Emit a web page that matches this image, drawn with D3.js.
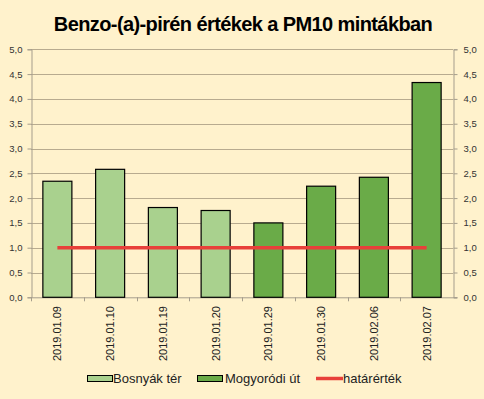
<!DOCTYPE html>
<html>
<head>
<meta charset="utf-8">
<script src="https://cdn.jsdelivr.net/npm/d3@7"></script>
<style>
  body { margin: 0; background: #fff2cc; }
  text { font-family: "Liberation Sans", Arial, sans-serif; }
</style>
</head>
<body>
<svg id="chart" width="484" height="399"></svg>
<script>
// adatok
const dates = ["2019.01.09", "2019.01.10", "2019.01.19", "2019.01.20",
               "2019.01.29", "2019.01.30", "2019.02.06", "2019.02.07"];
const bosnyak = [2.34, 2.58, 1.81, 1.75, null, null, null, null];
const mogyorodi = [null, null, null, null, 1.50, 2.24, 2.42, 4.33];
const hatarertek = [1, 1, 1, 1, 1, 1, 1, 1];
const yTicks = [0, 0.5, 1, 1.5, 2, 2.5, 3, 3.5, 4, 4.5, 5];

const svg = d3.select("#chart");
const W = 484, H = 399;
const pLeft = 31, pRight = 453, pTop = 49.3, pBottom = 297.3;

svg.append("rect").attr("width", W).attr("height", H).attr("fill", "#fff2cc");

const x = d3.scaleBand().domain(dates).range([pLeft, pRight]).paddingInner(0.45).paddingOuter(0.225);
const xc = d3.scaleBand().domain(dates).range([pLeft, pRight]);
const y = d3.scaleLinear().domain([0, 5]).range([pBottom, pTop]);

const fmt = d => d3.format(".1f")(d).replace(".", ",");

// rácsvonalak
svg.append("g").selectAll("line").data(yTicks.slice(1)).enter().append("line")
  .attr("x1", pLeft).attr("x2", pRight)
  .attr("y1", d => Math.round(y(d)) + 0.5).attr("y2", d => Math.round(y(d)) + 0.5)
  .attr("stroke", "#b8ab8f").attr("stroke-width", 1);

// tengelyek
const axL = svg.append("g").attr("transform", `translate(${pLeft + 0.5},0)`)
  .call(d3.axisLeft(y).tickValues(yTicks).tickFormat(fmt).tickSize(4).tickPadding(5));
const axR = svg.append("g").attr("transform", `translate(${pRight + 0.5},0)`)
  .call(d3.axisRight(y).tickValues(yTicks).tickFormat(fmt).tickSize(4).tickPadding(6));
[axL, axR].forEach(a => {
  a.select(".domain").attr("stroke", "#a59d8c");
  a.selectAll(".tick line").attr("stroke", "#a59d8c");
  a.selectAll("text").attr("font-size", 9.5).attr("fill", "#333")
    .style("font-family", "'Liberation Sans', Arial, sans-serif");
});

// x tengely
svg.append("line").attr("x1", pLeft).attr("x2", pRight + 4)
  .attr("y1", pBottom + 0.5).attr("y2", pBottom + 0.5).attr("stroke", "#a59d8c");
svg.append("g").selectAll("line").data(dates).enter().append("line")
  .attr("x1", d => Math.round(xc(d)) + 0.5).attr("x2", d => Math.round(xc(d)) + 0.5)
  .attr("y1", pBottom).attr("y2", pBottom + 4).attr("stroke", "#a59d8c");

svg.append("g").selectAll("text").data(dates).enter().append("text")
  .attr("transform", d => `translate(${xc(d) + xc.bandwidth() / 2 + 4},306) rotate(-90)`)
  .attr("text-anchor", "end")
  .attr("font-size", 11).attr("fill", "#222")
  .text(d => d);

// oszlopok
function bars(vals, color) {
  svg.append("g").selectAll("rect").data(dates.map((d, i) => ({ d, v: vals[i] })).filter(o => o.v != null))
    .enter().append("rect")
    .attr("x", o => x(o.d)).attr("width", x.bandwidth())
    .attr("y", o => y(o.v)).attr("height", o => y(0) - y(o.v))
    .attr("fill", color).attr("stroke", "#000").attr("stroke-width", 1.2);
}
bars(bosnyak, "#a9d18e");
bars(mogyorodi, "#6aab48");

// határérték
const line = d3.line().x((v, i) => xc(dates[i]) + xc.bandwidth() / 2).y(v => y(v));
svg.append("path").datum(hatarertek).attr("d", line)
  .attr("fill", "none").attr("stroke", "#e8403a").attr("stroke-width", 3.5);

// cím
svg.append("text").attr("x", 243).attr("y", 31).attr("text-anchor", "middle")
  .attr("font-size", 20).attr("font-weight", "bold").attr("fill", "#000")
  .attr("letter-spacing", -0.6)
  .text("Benzo-(a)-pirén értékek a PM10 mintákban");

// jelmagyarázat
const leg = svg.append("g");
const legItems = [
  { name: "Bosnyák tér", type: "bar", color: "#a9d18e", x: 87, tx: 113 },
  { name: "Mogyoródi út", type: "bar", color: "#6aab48", x: 197, tx: 225 },
  { name: "határérték", type: "line", color: "#e8403a", x: 316, tx: 343 }
];
legItems.forEach(it => {
  if (it.type === "bar") {
    leg.append("rect").attr("x", it.x + 0.5).attr("y", 375.5).attr("width", 25).attr("height", 6)
      .attr("fill", it.color).attr("stroke", "#000").attr("stroke-width", 1);
  } else {
    leg.append("line").attr("x1", it.x).attr("x2", it.x + 27).attr("y1", 378.5).attr("y2", 378.5)
      .attr("stroke", it.color).attr("stroke-width", 3.5);
  }
  leg.append("text").attr("x", it.tx).attr("y", 383).attr("font-size", 13).attr("fill", "#222")
    .text(it.name);
});
</script>
</body>
</html>
